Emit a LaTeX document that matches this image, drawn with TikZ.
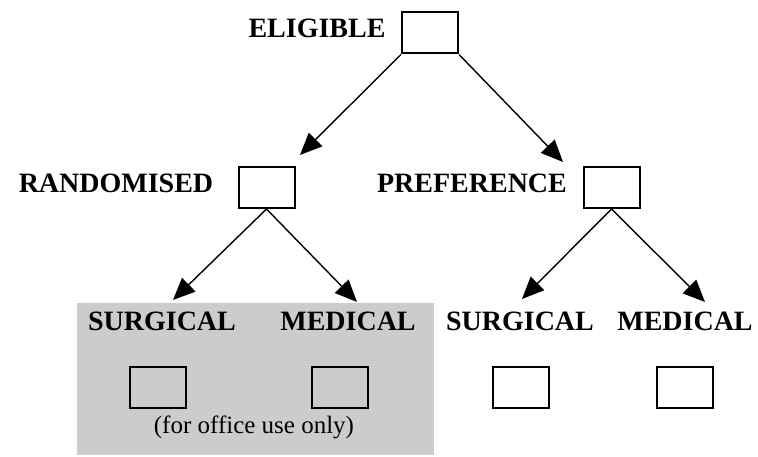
\documentclass[tikz,border=0pt]{standalone}
\usepackage{fontspec}
\setmainfont{Liberation Serif}
\usetikzlibrary{arrows.meta}
\begin{document}
\begin{tikzpicture}[x=1pt,y=-1pt,
  box/.style={draw=black,line width=2pt,minimum width=56pt,minimum height=41pt,inner sep=0pt},
  lbl/.style={font=\fontsize{28}{31}\selectfont\bfseries,inner sep=0pt},
  note/.style={font=\fontsize{25}{28}\selectfont,inner sep=0pt},
  link/.style={line width=1.4pt,-{Triangle[length=22pt,width=19pt]}},
  stem/.style={line width=1.4pt}]
\useasboundingbox (0,0) rectangle (758,457);
% shaded area for the randomised arm
\fill[black!20] (77,303) rectangle (434,455);
% tree nodes
\node[box] (elig) at (430,33) {};
\node[lbl,anchor=base] (eligt) at (317,38) {ELIGIBLE};
\node[box] (rand) at (266.5,187.5) {};
\node[lbl,anchor=base] (randt) at (116,193) {RANDOMISED};
\node[box] (pref) at (611.5,187.5) {};
\node[lbl,anchor=base] (preft) at (472,193) {PREFERENCE};
% outcome labels
\node[lbl,anchor=base] (rs) at (162,330) {SURGICAL};
\node[lbl,anchor=base] (rm) at (348,330) {MEDICAL};
\node[lbl,anchor=base] (ps) at (520,330) {SURGICAL};
\node[lbl,anchor=base] (pm) at (685,330) {MEDICAL};
% outcome boxes
\node[box] (rsb) at (157.5,387.5) {};
\node[box] (rmb) at (340,387.5) {};
\node[box] (psb) at (521,387.5) {};
\node[box] (pmb) at (685,387.5) {};
\node[note,anchor=base] (office) at (254,433) {(for office use only)};
% arrow end points
\coordinate (t1) at (300,155);
\coordinate (t2) at (563,162);
\coordinate (t3) at (173,300);
\coordinate (t4) at (357,302);
\coordinate (t5) at (522,299);
\coordinate (t6) at (705,302);
% connectors
\draw[link] (elig.south west) -- (t1);
\draw[link] (elig.south east) -- (t2);
\draw[link] (rand.south) -- (t3);
\draw[link] (rand.south) -- (t4);
\draw[link] (pref.south) -- (t5);
\draw[link] (pref.south) -- (t6);
\end{tikzpicture}
\end{document}
